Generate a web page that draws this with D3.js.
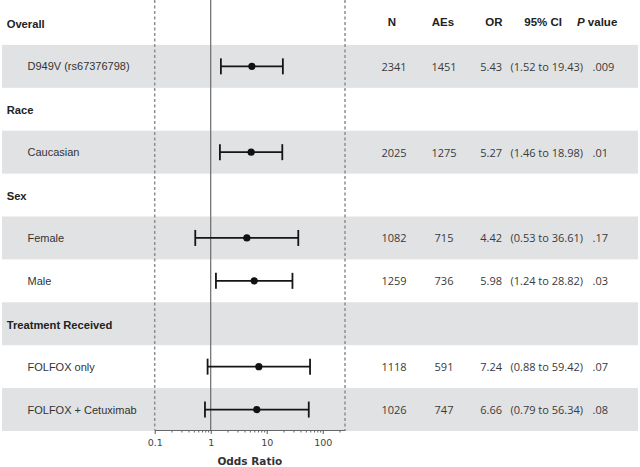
<!DOCTYPE html>
<html>
<head>
<meta charset="utf-8">
<script src="https://cdn.jsdelivr.net/npm/d3@7"></script>
<style>
  html, body { margin: 0; padding: 0; background: #fff; }
  svg { display: block; }
</style>
</head>
<body>
<svg id="chart" width="640" height="467"></svg>
<script>
// ---- data ----
const rowLabels = ["Overall", "D949V (rs67376798)", "Race", "Caucasian", "Sex", "Female", "Male", "Treatment Received", "FOLFOX only", "FOLFOX + Cetuximab"];
const isHeader  = [true, false, true, false, true, false, false, true, false, false];
const nValues   = [null, 2341, null, 2025, null, 1082, 1259, null, 1118, 1026];
const aeValues  = [null, 1451, null, 1275, null, 715, 736, null, 591, 747];
const orValues  = [null, 5.43, null, 5.27, null, 4.42, 5.98, null, 7.24, 6.66];
const ciLow     = [null, 1.52, null, 1.46, null, 0.53, 1.24, null, 0.88, 0.79];
const ciHigh    = [null, 19.43, null, 18.98, null, 36.61, 28.82, null, 59.42, 56.34];
const pValues   = [null, ".009", null, ".01", null, ".17", ".03", null, ".07", ".08"];
const shaded    = [false, true, false, true, false, true, false, true, false, true];
const majorTicks = [0.1, 1, 10, 100];
const minorTicks = [0.2,0.3,0.4,0.5,0.6,0.7,0.8,0.9,2,3,4,5,6,7,8,9,20,30,40,50,60,70,80,90,200];
const colHeaders = ["N", "AEs", "OR", "95% CI"];

// ---- layout ----
const svg = d3.select("#chart");
const idx = d3.range(rowLabels.length);
const y = d3.scaleBand().domain(idx).range([2, 431]).padding(0);
const x = d3.scaleLog().domain([0.1, 250]).range([154.7, 345]);
const axisY = 430;
const fmt = v => v.toFixed(2);

// bands
svg.append("g").selectAll("rect")
  .data(idx.filter(i => shaded[i]))
  .join("rect")
  .attr("x", 2).attr("width", 636)
  .attr("y", i => y(i)).attr("height", y.bandwidth())
  .attr("fill", "#e1e2e4");

// reference lines
const lines = svg.append("g");
[0.1, 250].forEach(v => {
  lines.append("line")
    .attr("x1", x(v)).attr("x2", x(v)).attr("y1", 0).attr("y2", axisY)
    .attr("stroke", "#8e8e8e").attr("stroke-width", 1.5)
    .attr("stroke-dasharray", "3,2.5");
});
lines.append("line")
  .attr("x1", x(1)).attr("x2", x(1)).attr("y1", 0).attr("y2", axisY)
  .attr("stroke", "#6a6a6a").attr("stroke-width", 1.2);

// axis
const axisG = svg.append("g").attr("transform", `translate(0,${axisY})`);
axisG.call(d3.axisBottom(x).tickValues(majorTicks).tickFormat(d => String(d)).tickSize(4).tickSizeOuter(0))
  .call(g => g.select(".domain").attr("stroke", "#666"))
  .call(g => g.selectAll(".tick line").attr("stroke", "#555"))
  .call(g => g.selectAll(".tick text")
    .attr("font-family", "DejaVu Sans").attr("font-size", 9.5).attr("fill", "#444").attr("dy", "0.9em"));
axisG.append("g").call(d3.axisBottom(x).tickValues(minorTicks).tickFormat("").tickSize(2.5).tickSizeOuter(0))
  .call(g => g.select(".domain").remove())
  .call(g => g.selectAll(".tick line").attr("stroke", "#666"));
svg.append("text")
  .attr("x", (x(0.1) + x(250)) / 2).attr("y", 461)
  .attr("text-anchor", "middle").attr("dominant-baseline", "central")
  .attr("font-family", "DejaVu Sans").attr("font-weight", "bold").attr("font-size", 10.5)
  .attr("fill", "#333").text("Odds Ratio");

// row labels
const cy = i => y(i) + y.bandwidth() / 2;
svg.append("g").selectAll("text")
  .data(idx).join("text")
  .attr("x", i => isHeader[i] ? 6.7 : 27.5)
  .attr("y", i => cy(i) + (isHeader[i] ? 1 : 0))
  .attr("dominant-baseline", "central")
  .attr("font-family", "Liberation Sans, Arial, sans-serif")
  .attr("font-size", i => isHeader[i] ? 11.2 : 11)
  .attr("font-weight", i => isHeader[i] ? "bold" : "normal")
  .attr("fill", i => isHeader[i] ? "#222" : "#333")
  .text(i => rowLabels[i]);

// forest marks
const dataIdx = idx.filter(i => orValues[i] != null);
const marks = svg.append("g");
marks.selectAll("line.ci").data(dataIdx).join("line")
  .attr("class", "ci")
  .attr("x1", i => x(ciLow[i])).attr("x2", i => x(ciHigh[i]))
  .attr("y1", cy).attr("y2", cy)
  .attr("stroke", "#151515").attr("stroke-width", 1.8);
marks.selectAll("line.capL").data(dataIdx).join("line")
  .attr("class", "capL")
  .attr("x1", i => x(ciLow[i])).attr("x2", i => x(ciLow[i]))
  .attr("y1", i => cy(i) - 8).attr("y2", i => cy(i) + 8)
  .attr("stroke", "#151515").attr("stroke-width", 1.8);
marks.selectAll("line.capR").data(dataIdx).join("line")
  .attr("class", "capR")
  .attr("x1", i => x(ciHigh[i])).attr("x2", i => x(ciHigh[i]))
  .attr("y1", i => cy(i) - 8).attr("y2", i => cy(i) + 8)
  .attr("stroke", "#151515").attr("stroke-width", 1.8);
marks.selectAll("circle").data(dataIdx).join("circle")
  .attr("cx", i => x(orValues[i])).attr("cy", cy).attr("r", 3.6)
  .attr("fill", "#111");

// table headers
const hdr = svg.append("g")
  .attr("font-family", "Liberation Sans, Arial, sans-serif")
  .attr("font-weight", "bold").attr("font-size", 11.5).attr("fill", "#222");
const hy = cy(0) - 1.5;
hdr.append("text").attr("x", 392).attr("y", hy).attr("text-anchor", "middle").attr("dominant-baseline", "central").text(colHeaders[0]);
hdr.append("text").attr("x", 443).attr("y", hy).attr("text-anchor", "middle").attr("dominant-baseline", "central").text(colHeaders[1]);
hdr.append("text").attr("x", 502.5).attr("y", hy).attr("text-anchor", "end").attr("dominant-baseline", "central").text(colHeaders[2]);
hdr.append("text").attr("x", 562).attr("y", hy).attr("text-anchor", "end").attr("dominant-baseline", "central").text(colHeaders[3]);
const pv = hdr.append("text").attr("x", 577).attr("y", hy).attr("dominant-baseline", "central");
pv.append("tspan").attr("font-style", "italic").text("P");
pv.append("tspan").text(" value");

// table values
const tbl = svg.append("g")
  .attr("font-family", "Open Sans, sans-serif").attr("font-size", 11).attr("fill", "#3a3a3a");
tbl.selectAll("text.n").data(dataIdx).join("text").attr("class", "n")
  .attr("x", 394).attr("y", cy).attr("text-anchor", "middle").attr("dominant-baseline", "central")
  .text(i => nValues[i]);
tbl.selectAll("text.ae").data(dataIdx).join("text").attr("class", "ae")
  .attr("x", 444).attr("y", cy).attr("text-anchor", "middle").attr("dominant-baseline", "central")
  .text(i => aeValues[i]);
tbl.selectAll("text.or").data(dataIdx).join("text").attr("class", "or")
  .attr("x", 502).attr("y", cy).attr("text-anchor", "end").attr("dominant-baseline", "central")
  .text(i => fmt(orValues[i]));
tbl.selectAll("text.ci").data(dataIdx).join("text").attr("class", "ci")
  .attr("x", 510.5).attr("y", cy).attr("dominant-baseline", "central")
  .text(i => `(${fmt(ciLow[i])} to ${fmt(ciHigh[i])})`);
tbl.selectAll("text.p").data(dataIdx).join("text").attr("class", "p")
  .attr("x", 592.5).attr("y", cy).attr("dominant-baseline", "central")
  .text(i => pValues[i]);
</script>
</body>
</html>
